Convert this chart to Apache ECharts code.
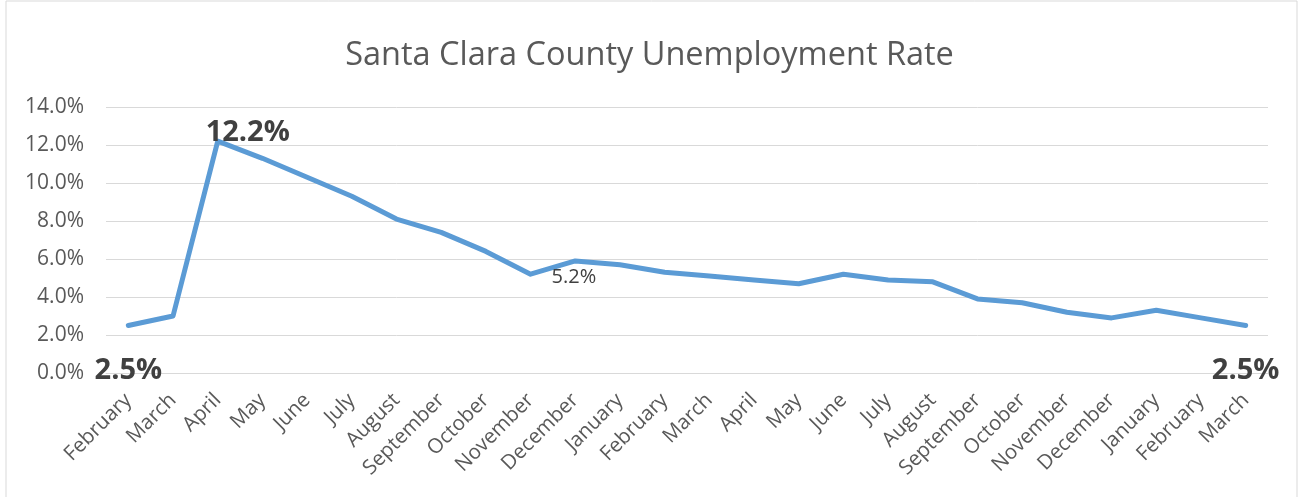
<!DOCTYPE html>
<html>
<head>
<meta charset="utf-8">
<script src="https://cdn.jsdelivr.net/npm/echarts@6/dist/echarts.min.js"></script>
<style>
html,body{margin:0;padding:0;background:#fff;}
#c{width:1299px;height:497px;}
</style>
</head>
<body>
<div id="c"></div>
<script>
const title = "Santa Clara County Unemployment Rate";
const categories = ["February","March","April","May","June","July","August","September","October","November","December","January","February","March","April","May","June","July","August","September","October","November","December","January","February","March"];
const rates = [2.5,3.0,12.2,11.3,10.3,9.3,8.1,7.4,6.4,5.2,5.9,5.7,5.3,5.1,4.9,4.7,5.2,4.9,4.8,3.9,3.7,3.2,2.9,3.3,2.9,2.5];
const yTicks = [0,2,4,6,8,10,12,14];
const labelledBig = [0,2,25];
const labelledSmall = [9];

const chart = echarts.init(document.getElementById('c'));
const FONT = '"Open Sans", "Noto Sans", sans-serif';
const data = rates.map((v,i)=>{
  const d = {value:v};
  if (labelledBig.includes(i)) {
    d.label = {show:true, fontSize:29, fontWeight:'bold', color:'#404040', fontFamily:FONT,
      position: i===2 ? 'top' : 'bottom',
      formatter: p=>p.value.toFixed(1)+'%'};
  } else if (labelledSmall.includes(i)) {
    d.label = {show:true, fontSize:20, color:'#404040', fontFamily:FONT,
      position:'right', formatter:p=>p.value.toFixed(1)+'%'};
  }
  return d;
});
const shifts = {0:[0,26], 2:[30,11], 9:[16,3], 25:[0,26]};

chart.setOption({
  animation:false,
  backgroundColor:'#fff',
  title:{text:title, left:'center', top:34,
    textStyle:{fontFamily:FONT, fontSize:32.5, fontWeight:'normal', color:'#595959'}},
  graphic:[{type:'rect', shape:{x:6,y:1,width:1291,height:500}, style:{fill:'none', stroke:'#d9d9d9', lineWidth:1}, silent:true}],
  grid:{left:106, right:31, top:107, bottom:124, containLabel:false},
  xAxis:{type:'category', data:categories, boundaryGap:true,
    axisLine:{show:true, lineStyle:{color:'#d9d9d9'}},
    axisTick:{show:false},
    axisLabel:{rotate:45, interval:0, fontSize:20.5, color:'#595959', fontFamily:FONT, margin:24}},
  yAxis:{type:'value', min:0, max:yTicks[yTicks.length-1], interval:yTicks[1]-yTicks[0],
    axisLine:{show:false}, axisTick:{show:false},
    splitLine:{lineStyle:{color:'#d9d9d9', width:1}},
    axisLabel:{fontSize:21, color:'#595959', fontFamily:FONT, margin:22, formatter:v=>v.toFixed(1)+'%'}},
  series:[{type:'line', data:data, symbol:'circle', symbolSize:0, showSymbol:true,
    lineStyle:{color:'#5B9BD5', width:5, cap:'round', join:'round'},
    itemStyle:{color:'#5B9BD5'},
    labelLayout:p=>{const s=shifts[p.dataIndex]; return s?{dx:s[0],dy:s[1],hideOverlap:false}:{};}}]
});
</script>
</body>
</html>
